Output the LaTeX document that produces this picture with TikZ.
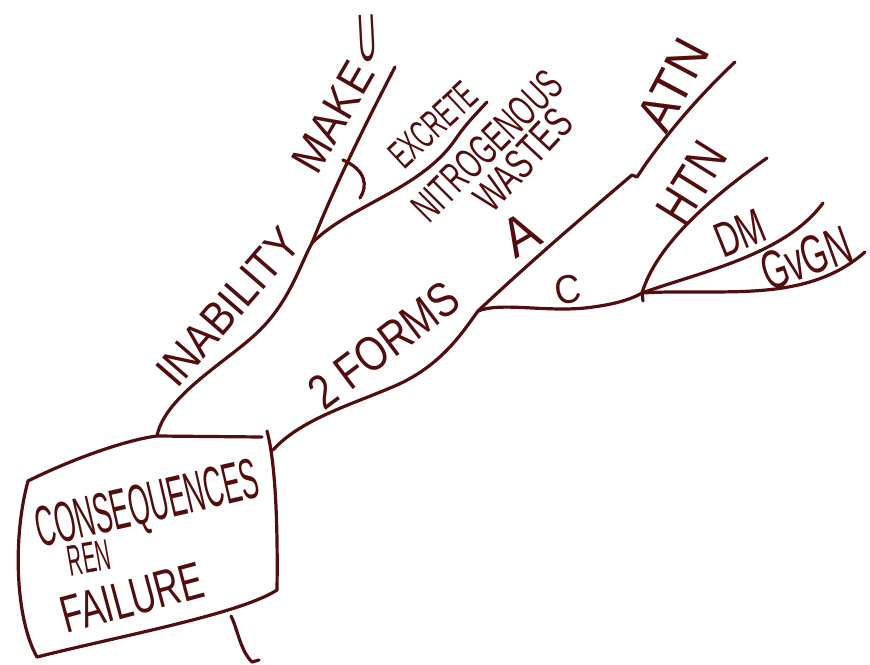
\documentclass[tikz,border=0pt]{standalone}
\usepackage{fontspec}
\setmainfont{Liberation Sans}
\usepackage{graphicx}
\definecolor{ink}{RGB}{82,14,14}
% a word stretched to a given width and height (in pt)
\newcommand{\penword}[3]{\resizebox{#1pt}{#2pt}{#3}}
\begin{document}
\begin{tikzpicture}[x=1pt,y=-1pt,
  pen/.style={draw=ink, line width=3.2pt, line cap=round, line join=round},
  word/.style={inner sep=0pt, text=ink},
]
\useasboundingbox[fill=white] (0,0) rectangle (870,664);

% ---- central box ----
\coordinate (tl) at (28,481);
\coordinate (tr) at (267,431);
\coordinate (br) at (277,590);
\coordinate (bl) at (37,657);
\coordinate (boxtop) at (157,436);
\coordinate (boxright) at (273,450);
\coordinate (boxbottom) at (231,616);
\coordinate (tail) at (252,662);

\draw[pen] (tl) .. controls (70,460) and (125,440) .. (boxtop) -- (262,437);
\draw[pen] (tr) .. controls (275,460) and (278,520) .. (br);
\draw[pen] (br) .. controls (240,614) and (120,636) .. (bl);
\draw[pen] (tl) .. controls (12,540) and (16,620) .. (bl);

\node[word, rotate=13] (t1) at (148,508) {\penword{228}{40}{CONSEQUENCES}};
\node[word, rotate=10] (t2) at (89,558) {\penword{42}{30}{REN}};
\node[word, rotate=15] (t3) at (132,598) {\penword{145}{36}{FAILURE}};

% ---- upper branch: inability ----
\coordinate (f1) at (312,243);
\coordinate (makeend) at (395,67);
\coordinate (excend) at (487,102);
\draw[pen] (boxtop) .. controls (165,395) and (230,360) .. (260,330)
  .. controls (290,300) and (300,265) .. (f1);
\draw[pen] (f1) .. controls (335,185) and (365,125) .. (makeend);
\draw[pen] (f1) .. controls (350,205) and (420,190) .. (455,140) .. controls (465,125) and (475,115) .. (excend);
\coordinate (arcA) at (343,160);
\coordinate (arcB) at (360,198);
\draw[pen] (arcA) .. controls (366,170) and (368,186) .. (arcB);

\node[word, rotate=49] (inab) at (228,307) {\penword{192}{32}{INABILITY}};
\node[word, rotate=60] (make) at (333,117) {\penword{118}{32}{MAKE}};
\node[word, rotate=3] (uu) at (367,38) {\penword{18}{46}{U}};
\node[word, rotate=43] (exc) at (433,125) {\penword{105}{28}{EXCRETE}};
\node[word, rotate=45] (nitro) at (487,146) {\penword{192}{30}{NITROGENOUS}};
\node[word, rotate=47] (wastes) at (523,160) {\penword{122}{30}{WASTES}};

% ---- lower branch: two forms ----
\coordinate (f2) at (478,311);
\coordinate (f3) at (642,293);
\coordinate (notch) at (632,175);
\coordinate (atnend) at (735,62);
\draw[pen] (boxright) .. controls (300,420) and (350,405) .. (390,388)
  .. controls (440,368) and (462,333) .. (f2);
% A
\draw[pen] (f2) .. controls (530,262) and (585,215) .. (notch) -- (637,177) -- (645,165)
  .. controls (670,130) and (700,95) .. (atnend);
% C
\draw[pen] (f2) .. controls (500,302) and (545,312) .. (585,308) .. controls (612,305) and (630,300) .. (f3);
\draw[pen] (f3) -- (643,301);
% sub-branches of C
\coordinate (htnend) at (767,158);
\coordinate (dmend) at (823,203);
\coordinate (gnend) at (865,252);
\draw[pen] (f3) .. controls (655,250) and (700,205) .. (htnend);
\draw[pen] (f3) .. controls (700,272) and (785,255) .. (dmend);
\draw[pen] (f3) .. controls (720,288) and (805,305) .. (gnend);

% stem below the box
\draw[pen] (boxbottom) .. controls (238,630) and (240,650) .. (tail) -- (259,660);

\node[word, rotate=37] (forms) at (384,345) {\penword{175}{34}{2 FORMS}};
\node[word, rotate=30] (la) at (521,235) {\penword{34}{38}{A}};
\node[word, rotate=62] (atn) at (673,85) {\penword{95}{36}{ATN}};
\node[word, rotate=10] (lc) at (568,290) {\penword{26}{28}{C}};
\node[word, rotate=58] (htn) at (692,183) {\penword{85}{36}{HTN}};
\node[word, rotate=22] (dm) at (740,233) {\penword{50}{34}{DM}};
\node[word, rotate=20] (gn) at (806,258) {\penword{92}{38}{GvGN}};
\end{tikzpicture}
\end{document}
